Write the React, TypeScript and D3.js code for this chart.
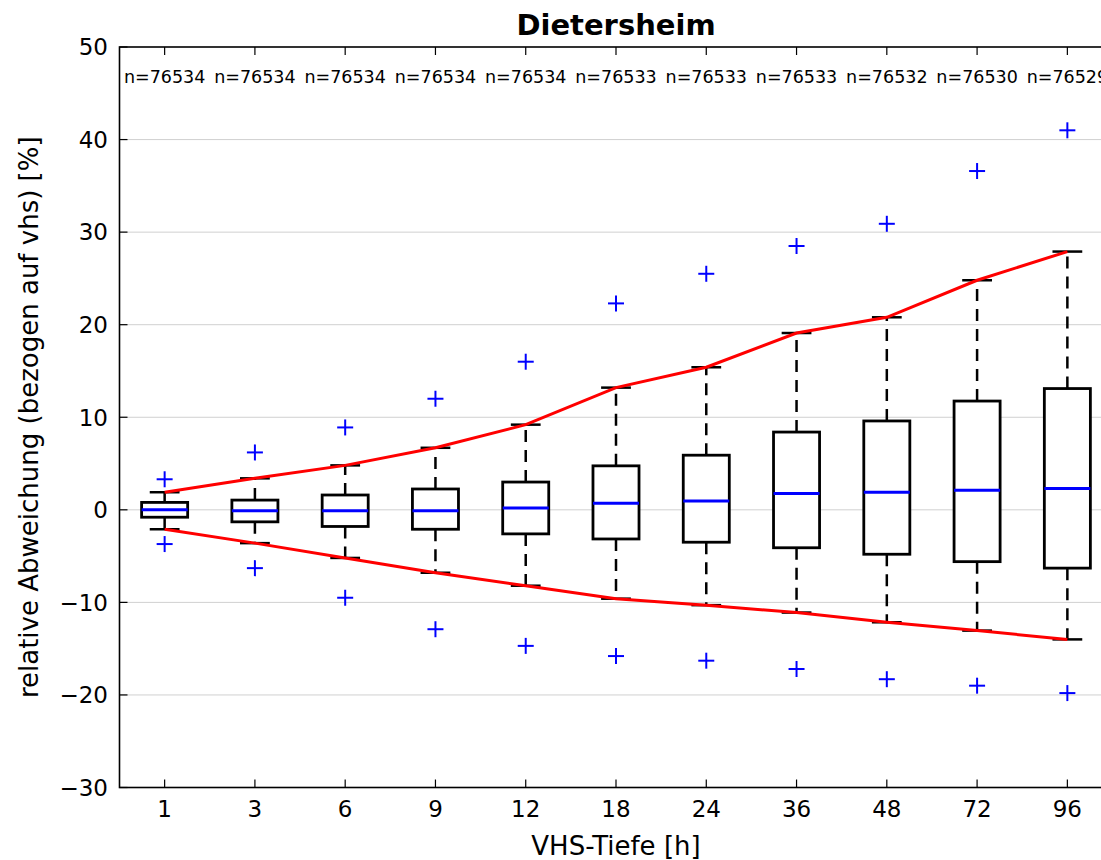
import React from "react";
import * as d3 from "d3";

const WIDTH = 1101;
const HEIGHT = 860;

const categories = ["1", "3", "6", "9", "12", "18", "24", "36", "48", "72", "96"];
const counts = [76534, 76534, 76534, 76534, 76534, 76533, 76533, 76533, 76532, 76530, 76529];
const whiskerLow = [-2.1, -3.6, -5.2, -6.8, -8.2, -9.6, -10.3, -11.1, -12.15, -13.05, -14.0];
const q1 = [-0.8, -1.3, -1.8, -2.1, -2.6, -3.15, -3.5, -4.1, -4.8, -5.6, -6.3];
const median = [0.0, -0.1, -0.1, -0.1, 0.2, 0.7, 0.95, 1.75, 1.9, 2.1, 2.3];
const q3 = [0.8, 1.05, 1.6, 2.25, 3.0, 4.75, 5.9, 8.4, 9.6, 11.75, 13.1];
const whiskerHigh = [1.9, 3.4, 4.8, 6.7, 9.2, 13.2, 15.4, 19.1, 20.8, 24.8, 27.9];
const outHigh = [3.3, 6.2, 8.9, 12.0, 16.0, 22.3, 25.5, 28.5, 30.9, 36.6, 41.0];
const outLow = [-3.7, -6.3, -9.5, -12.9, -14.7, -15.8, -16.3, -17.2, -18.3, -19.0, -19.8];
const yTicks = [-30, -20, -10, 0, 10, 20, 30, 40, 50];

const FONT = "'DejaVu Sans', sans-serif";

export default function App() {
  const left = 119.5;
  const right = 1112.5;
  const top = 47;
  const bottom = 787.5;

  const x = d3.scaleBand<string>().domain(categories).range([left, right]).padding(0);
  const y = d3.scaleLinear().domain([-30, 50]).range([bottom, top]);
  const bw = x.bandwidth();
  const cx = (c: string) => (x(c) as number) + bw / 2;
  const boxW = bw * 0.51;
  const capW = bw * 0.33;

  const line = d3
    .line<number>()
    .x((_, i) => cx(categories[i]))
    .y((v) => y(v));

  const fmt = (t: number) => (t < 0 ? `\u2212${Math.abs(t)}` : `${t}`);
  const tickLen = 8;

  return (
    <svg
      width={WIDTH}
      height={HEIGHT}
      style={{ position: "absolute", left: 0, top: 0, background: "#fff" }}
      fontFamily={FONT}
    >
      {/* grid */}
      {yTicks
        .filter((t) => t > -30 && t < 50)
        .map((t) => (
          <line key={"g" + t} x1={left} x2={right} y1={y(t)} y2={y(t)} stroke="#d0d0d0" strokeWidth={1} />
        ))}

      {/* boxes */}
      {categories.map((c, i) => {
        const xc = cx(c);
        return (
          <g key={c}>
            <line x1={xc} x2={xc} y1={y(q3[i])} y2={y(whiskerHigh[i])} stroke="#000" strokeWidth={2.5} strokeDasharray="12,8" />
            <line x1={xc} x2={xc} y1={y(q1[i])} y2={y(whiskerLow[i])} stroke="#000" strokeWidth={2.5} strokeDasharray="12,8" />
            <line x1={xc - capW / 2} x2={xc + capW / 2} y1={y(whiskerHigh[i])} y2={y(whiskerHigh[i])} stroke="#000" strokeWidth={2.5} />
            <line x1={xc - capW / 2} x2={xc + capW / 2} y1={y(whiskerLow[i])} y2={y(whiskerLow[i])} stroke="#000" strokeWidth={2.5} />
            <rect
              x={xc - boxW / 2}
              y={y(q3[i])}
              width={boxW}
              height={y(q1[i]) - y(q3[i])}
              fill="#fff"
              stroke="#000"
              strokeWidth={2.8}
            />
            <line x1={xc - boxW / 2} x2={xc + boxW / 2} y1={y(median[i])} y2={y(median[i])} stroke="#0000ff" strokeWidth={3} />
          </g>
        );
      })}

      {/* red envelope lines */}
      <path d={line(whiskerHigh) || ""} fill="none" stroke="#ff0000" strokeWidth={3} />
      <path d={line(whiskerLow) || ""} fill="none" stroke="#ff0000" strokeWidth={3} />

      {/* outlier markers */}
      {categories.map((c, i) =>
        [outHigh[i], outLow[i]].map((v, k) => {
          const px = cx(c);
          const py = y(v);
          return (
            <g key={c + "o" + k} stroke="#0000ff" strokeWidth={2}>
              <line x1={px - 8} x2={px + 8} y1={py} y2={py} />
              <line x1={px} x2={px} y1={py - 8} y2={py + 8} />
            </g>
          );
        })
      )}

      {/* n labels */}
      {categories.map((c, i) => (
        <text key={"n" + c} x={cx(c)} y={83} textAnchor="middle" fontSize={17.5} fill="#000">
          n={counts[i]}
        </text>
      ))}

      {/* spines */}
      <rect x={left} y={top} width={right - left} height={bottom - top} fill="none" stroke="#000" strokeWidth={1.6} />

      {/* y ticks */}
      {yTicks.map((t) => (
        <g key={"y" + t}>
          <line x1={left} x2={left + tickLen} y1={y(t)} y2={y(t)} stroke="#000" strokeWidth={1.2} />
          <text x={108} y={y(t)} dy="0.36em" textAnchor="end" fontSize={23} fill="#000">
            {fmt(t)}
          </text>
        </g>
      ))}

      {/* x ticks */}
      {categories.map((c) => (
        <g key={"x" + c}>
          <line x1={cx(c)} x2={cx(c)} y1={bottom} y2={bottom - tickLen} stroke="#000" strokeWidth={1.2} />
          <line x1={cx(c)} x2={cx(c)} y1={top} y2={top + tickLen} stroke="#000" strokeWidth={1.2} />
          <text x={cx(c)} y={817} textAnchor="middle" fontSize={23} fill="#000">
            {c}
          </text>
        </g>
      ))}

      {/* titles */}
      <text x={616} y={35} textAnchor="middle" fontSize={29} fontWeight="bold" fill="#000">
        Dietersheim
      </text>
      <text x={616} y={855} textAnchor="middle" fontSize={26} fill="#000">
        VHS-Tiefe [h]
      </text>
      <text
        transform={`translate(38,${(top + bottom) / 2}) rotate(-90)`}
        textAnchor="middle"
        fontSize={26}
        fill="#000"
      >
        relative Abweichung (bezogen auf vhs) [%]
      </text>
    </svg>
  );
}
